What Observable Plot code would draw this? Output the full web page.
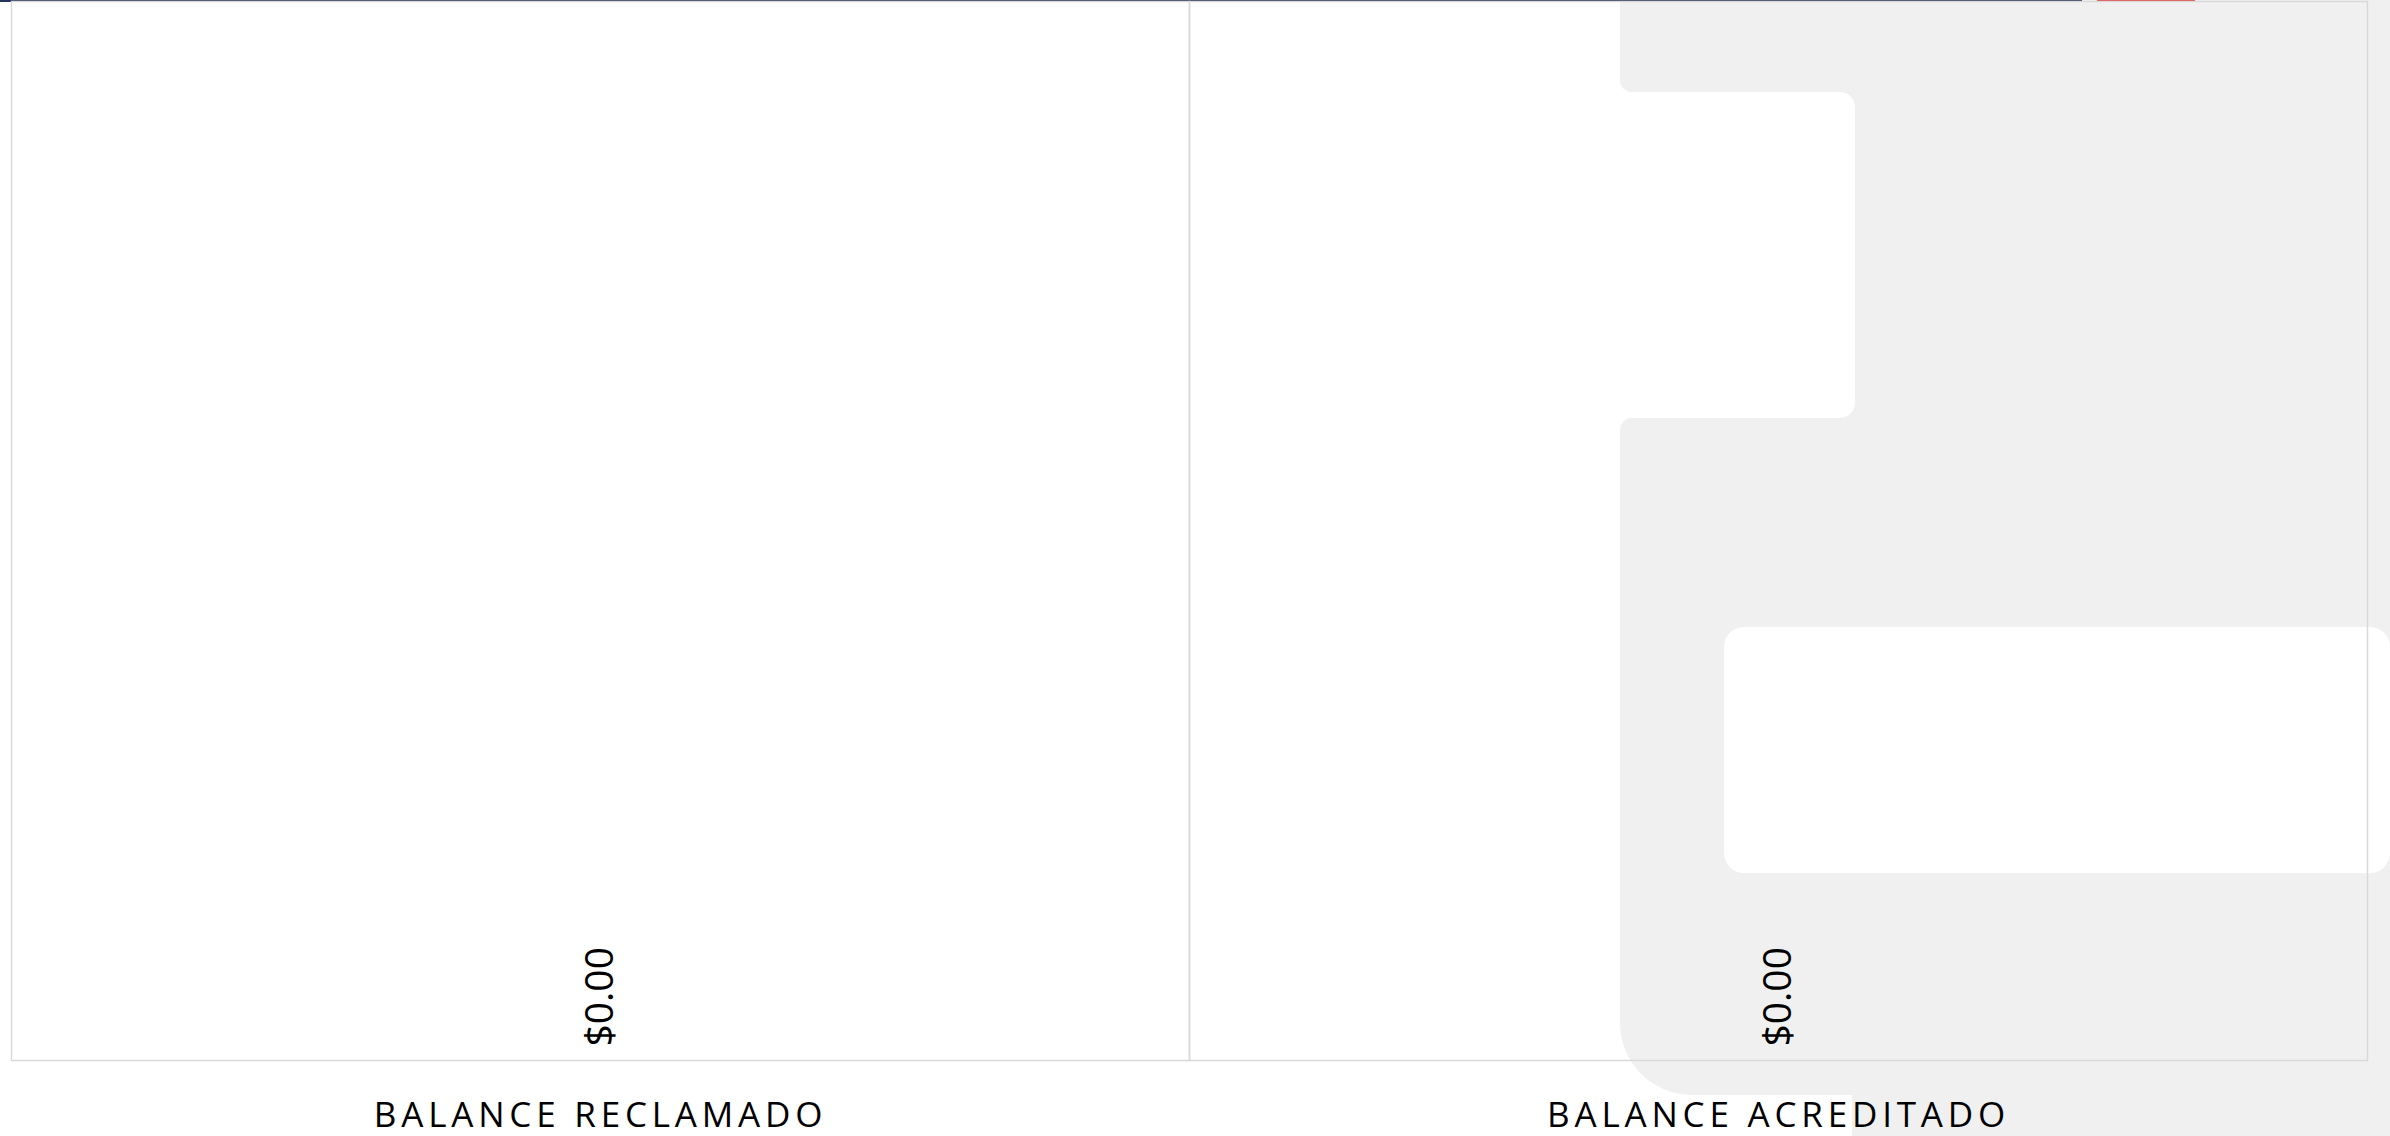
<!DOCTYPE html>
<html>
<head>
<meta charset="utf-8">
<script src="https://cdn.jsdelivr.net/npm/d3@7"></script>
<script src="https://cdn.jsdelivr.net/npm/@observablehq/plot@0.6"></script>
<style>
  html, body { margin: 0; padding: 0; background: #ffffff; }
  body { width: 2390px; height: 1136px; position: relative; overflow: hidden; font-family: "Open Sans", sans-serif; }
  .deco { position: absolute; }
  .grey { background: #eff0ef; }
  .white { background: #ffffff; }
  #chart { position: absolute; left: 0; top: 0; }
  #chart svg { background: transparent; }
  #chart g[aria-label="fx-axis tick label"] text { letter-spacing: 4.8px; }
</style>
</head>
<body>
<!-- page backdrop behind the chart -->
<div class="deco grey" style="left:1820px; top:0; width:570px; height:1095px;"></div>
<div class="deco grey" style="left:1852px; top:1080px; width:538px; height:56px;"></div>
<div class="deco white" style="left:1600px; top:92px; width:255px; height:326px; border-radius:15px;"></div>
<div class="deco grey" style="left:1620px; top:0; width:220px; height:92px; border-bottom-left-radius:12px;"></div>
<div class="deco grey" style="left:1620px; top:418px; width:220px; height:677px; border-top-left-radius:12px; border-bottom-left-radius:72px;"></div>
<div class="deco white" style="left:1724px; top:627px; width:666px; height:246px; border-radius:20px;"></div>
<div class="deco" style="left:0; top:0; width:2082px; height:2px; background:#26335c;"></div>
<div class="deco" style="left:2097px; top:0; width:98px; height:2px; background:#e0403f;"></div>
<div id="chart"></div>
<script>
// Balances
const categories = ["BALANCE RECLAMADO", "BALANCE ACREDITADO"];
const values = [0, 0];

const data = categories.map((c, i) => ({category: c, value: values[i]}));
const money = d3.format("$,.2f");

const chart = Plot.plot({
  width: 2390,
  height: 1136,
  marginLeft: 11,
  marginRight: 23,
  marginTop: 1,
  marginBottom: 76,
  style: {fontFamily: "Open Sans", background: "transparent", color: "#000"},
  fx: {domain: categories, padding: 0, label: null},
  y: {domain: [0, 1], axis: null},
  marks: [
    Plot.frame({stroke: "#d9d9d9", strokeWidth: 1.5}),
    Plot.barY(data, {fx: "category", y: "value", fill: "#4472c4"}),
    Plot.text(data, {
      fx: "category",
      y: "value",
      text: d => money(d.value),
      rotate: -90,
      textAnchor: "start",
      lineAnchor: "middle",
      dy: -14,
      fontSize: 39,
      fill: "#000"
    }),
    Plot.axisFx({
      anchor: "bottom",
      tickSize: 0,
      tickPadding: 42,
      fontSize: 35,
      label: null,
      fill: "#000"
    })
  ]
});

document.getElementById("chart").appendChild(chart);
</script>
</body>
</html>
